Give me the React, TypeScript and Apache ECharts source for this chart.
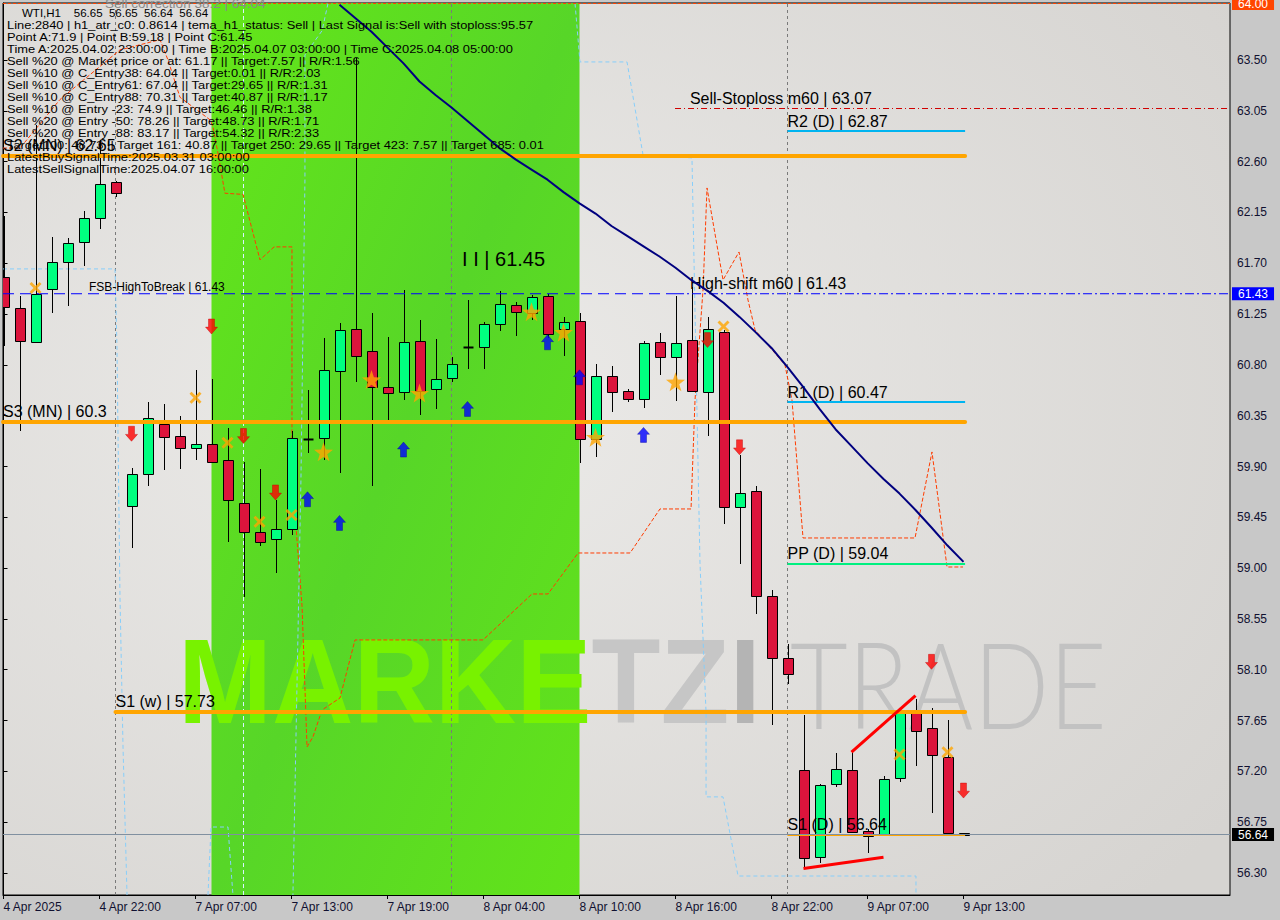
import React, { useEffect, useRef } from "react";
import * as echarts from "echarts";

// ---------- DATA ----------
const times = [
  "4 Apr 2025", "4 Apr 17:00", "4 Apr 18:00", "4 Apr 19:00", "4 Apr 20:00", "4 Apr 21:00",
  "4 Apr 22:00", "4 Apr 23:00", "7 Apr 03:00", "7 Apr 04:00", "7 Apr 05:00", "7 Apr 06:00",
  "7 Apr 07:00", "7 Apr 08:00", "7 Apr 09:00", "7 Apr 10:00", "7 Apr 11:00", "7 Apr 12:00",
  "7 Apr 13:00", "7 Apr 14:00", "7 Apr 15:00", "7 Apr 16:00", "7 Apr 17:00", "7 Apr 18:00",
  "7 Apr 19:00", "7 Apr 20:00", "7 Apr 21:00", "7 Apr 22:00", "7 Apr 23:00", "8 Apr 03:00",
  "8 Apr 04:00", "8 Apr 05:00", "8 Apr 06:00", "8 Apr 07:00", "8 Apr 08:00", "8 Apr 09:00",
  "8 Apr 10:00", "8 Apr 11:00", "8 Apr 12:00", "8 Apr 13:00", "8 Apr 14:00", "8 Apr 15:00",
  "8 Apr 16:00", "8 Apr 17:00", "8 Apr 18:00", "8 Apr 19:00", "8 Apr 20:00", "8 Apr 21:00",
  "8 Apr 22:00", "8 Apr 23:00", "9 Apr 03:00", "9 Apr 04:00", "9 Apr 05:00", "9 Apr 06:00",
  "9 Apr 07:00", "9 Apr 08:00", "9 Apr 09:00", "9 Apr 10:00", "9 Apr 11:00", "9 Apr 12:00",
  "9 Apr 13:00",
];
const xLabelIdx = [0, 6, 12, 18, 24, 30, 36, 42, 48, 54, 60];

const opens = [
  61.58, 61.30, 61.00, 61.47, 61.71, 61.89, 62.10, 62.42, 59.55, 59.83,
  60.28, 60.17, 60.06, 60.10, 59.96, 59.58, 59.32, 59.26, 59.35, 60.14,
  60.15, 60.745, 61.12, 60.92, 60.605, 60.56, 61.01, 60.59, 60.685, 60.96,
  60.96, 61.16, 61.33, 61.26, 61.41, 61.12, 61.19, 60.145, 60.70, 60.57,
  60.50, 61.00, 60.87, 61.02, 60.56, 61.09, 59.54, 59.68, 58.75, 58.20,
  57.21, 56.44, 57.09, 57.21, 56.67, 56.645, 57.14, 57.72, 57.58, 57.33,
  56.65,
];
const highs = [
  62.12, 61.41, 62.925, 61.93, 61.92, 62.16, 62.79, 62.43, 59.89, 60.47,
  60.45, 60.35, 60.755, 60.675, 60.24, 59.94, 59.88, 59.60, 60.215, 60.58,
  61.04, 61.17, 63.52, 61.26, 61.05, 61.46, 61.20, 61.03, 60.87, 61.375,
  61.18, 61.455, 61.355, 61.42, 61.43, 61.225, 61.26, 60.81, 60.79, 60.59,
  61.01, 61.08, 61.41, 61.49, 61.225, 61.11, 60.00, 59.73, 58.81, 58.33,
  57.70, 57.09, 57.36, 57.37, 56.69, 57.16, 57.735, 57.84, 57.76, 57.655,
  56.65,
];
const lows = [
  60.97, 60.215, 60.99, 61.26, 61.32, 61.68, 62.00, 62.29, 59.18, 59.73,
  59.87, 59.88, 59.96, 59.93, 59.23, 58.74, 59.20, 58.96, 59.29, 60.02,
  59.96, 59.84, 60.65, 59.73, 60.31, 60.49, 60.36, 60.41, 60.65, 60.765,
  60.765, 61.10, 61.06, 61.20, 61.04, 60.88, 59.93, 59.985, 60.38, 60.47,
  60.42, 60.71, 60.48, 60.56, 60.17, 59.39, 59.04, 58.59, 57.61, 57.97,
  56.34, 56.39, 57.06, 56.65, 56.48, 56.64, 57.11, 57.25, 56.83, 56.65,
  56.64,
];
const closes = [
  61.31, 61.01, 61.43, 61.71, 61.88, 62.10, 62.40, 62.32, 59.83, 60.33,
  60.16, 60.06, 60.10, 59.94, 59.60, 59.32, 59.23, 59.35, 60.15, 60.14,
  60.755, 61.11, 60.88, 60.605, 60.55, 61.00, 60.57, 60.675, 60.81, 60.96,
  61.16, 61.34, 61.27, 61.40, 61.07, 61.18, 60.14, 60.70, 60.56, 60.50,
  60.99, 60.87, 60.995, 60.57, 61.12, 59.54, 59.665, 58.75, 58.20, 58.06,
  56.43, 57.08, 57.22, 56.66, 56.63, 57.13, 57.72, 57.56, 57.345, 56.65,
  56.64,
];

// dark blue moving line (bar index 21..60)
const temaStart = 21;
const temaValues = [
  63.99, 63.87, 63.75, 63.61, 63.47, 63.31, 63.19, 63.08, 62.96, 62.84,
  62.72, 62.62, 62.53, 62.44, 62.33, 62.23, 62.14, 62.03, 61.94, 61.85,
  61.76, 61.66, 61.55, 61.455, 61.35, 61.225, 61.09, 60.95, 60.78, 60.60,
  60.41, 60.23, 60.08, 59.93, 59.79, 59.66, 59.515, 59.36, 59.20, 59.055,
];

// red dashed stepped line  [bar index, price]
const redDashPoints = [
  [-0.03, 62.72], [1.03, 62.72], [3.53, 63.15], [7.28, 63.59], [9.78, 63.68], [10.28, 63.5],
  [11.03, 63.17], [12.91, 62.97], [13.09, 62.91], [13.41, 62.67], [13.84, 62.32], [14.97, 62.31],
  [16.03, 61.73], [16.91, 61.845], [18.03, 61.845], [18.03, 59.84], [18.66, 58.66], [18.97, 57.416],
  [19.34, 57.505], [19.91, 57.744], [21.03, 57.85], [21.97, 58.364], [29.97, 58.364], [33.03, 58.771],
  [34.03, 58.771], [35.91, 59.134], [39.16, 59.134], [41.03, 59.524], [42.97, 59.524], [43.22, 60.49],
  [43.72, 61.464], [43.97, 62.367], [44.97, 61.552], [45.97, 61.8], [46.53, 61.375], [46.97, 61.11],
  [48.84, 60.8], [49.28, 60.49], [49.97, 59.267], [56.97, 59.267], [58.03, 60.029], [58.97, 59.01],
  [59.97, 59.01],
];

// light blue dashed stepped lines
const lightBlueA = [[-0.03, 61.65], [6.97, 61.65], [7.09, 60.977], [7.28, 58.745], [7.47, 57.416], [7.72, 56.105]];
const lightBlueB = [[12.78, 56.105], [12.97, 56.707], [14.03, 56.707], [14.34, 56.105]];
const lightBlueC = [[20.28, 64.0], [19.91, 63.76], [18.84, 63.545], [18.84, 62.44], [18.59, 59.78], [18.09, 56.105]];
const lightBlueD = [
  [35.72, 64.0], [36.03, 63.483], [38.97, 63.483], [39.97, 62.66], [43.03, 62.633], [43.53, 59.047],
  [43.91, 57.718], [43.91, 56.974], [44.97, 56.974], [45.91, 56.273], [57.03, 56.273], [57.03, 56.105],
];

// signal markers
const redArrowIdx = [8, 13, 15, 17, 44, 46, 58, 60];
const redArrowPrice = [60.19, 61.14, 60.17, 59.67, 61.02, 60.07, 58.17, 57.03];
const blueArrowIdx = [19, 21, 25, 29, 34, 36, 40];
const blueArrowPrice = [59.61, 59.40, 60.05, 60.41, 61.0, 60.69, 60.18];
const starIdx = [20, 23, 26, 33, 35, 37, 42];
const starPrice = [60.03, 60.67, 60.55, 61.27, 61.09, 60.16, 60.65];
const crossIdx = [2, 12, 14, 16, 18, 45, 56, 59];
const crossPrice = [61.48, 60.51, 60.11, 59.41, 59.47, 61.14, 57.35, 57.37];

// red trend lines
const trendUpper = [[53, 57.37], [57, 57.87]];
const trendLower = [[50, 56.34], [55, 56.44]];

// green (signal) zone, bar indices
const greenZone = [13, 36];

// levels
const levelLabels = ["S2 (MN) | 62.65", "S3 (MN) | 60.3", "S1 (w) | 57.73", "R2 (D) | 62.87", "R1 (D) | 60.47", "PP (D) | 59.04", "S1 (D) | 56.64"];
const levelValues = [62.65, 60.3, 57.73, 62.87, 60.47, 59.04, 56.64];
const levelStart = [-0.03, -0.03, 7, 49, 49, 49, 49];
const levelEnd = 60.1;

const stoplossValue = 63.07;
const stoplossStart = 42;
const fsbValue = 61.43;
const fsbSwitch = 41.97;
const currentPrice = 56.64;
const topValue = 64.0;
const pointC = 61.45;
const separators = [7, 28, 49];
const whiteMarker = 15;

const yTicks = [56.3, 56.75, 57.2, 57.65, 58.1, 58.55, 59.0, 59.45, 59.9, 60.35, 60.8, 61.25, 61.7, 62.15, 62.6, 63.05, 63.5];

const infoLines = [
  "Line:2840 | h1_atr_c0: 0.8614 | tema_h1_status: Sell | Last Signal is:Sell with stoploss:95.57",
  "Point A:71.9 | Point B:59.18 | Point C:61.45",
  "Time A:2025.04.02 23:00:00 | Time B:2025.04.07 03:00:00 | Time C:2025.04.08 05:00:00",
  "Sell %20 @ Market price or at: 61.17 || Target:7.57 || R/R:1.56",
  "Sell %10 @ C_Entry38: 64.04 || Target:0.01 || R/R:2.03",
  "Sell %10 @ C_Entry61: 67.04 || Target:29.65 || R/R:1.31",
  "Sell %10 @ C_Entry88: 70.31 || Target:40.87 || R/R:1.17",
  "Sell %10 @ Entry -23: 74.9 || Target:46.46 || R/R:1.38",
  "Sell %20 @ Entry -50: 78.26 || Target:48.73 || R/R:1.71",
  "Sell %20 @ Entry -88: 83.17 || Target:54.32 || R/R:2.33",
  "Target100: 48.73 || Target 161: 40.87 || Target 250: 29.65 || Target 423: 7.57 || Target 685: 0.01",
  "LatestBuySignalTime:2025.03.31 03:00:00",
  "LatestSellSignalTime:2025.04.07 16:00:00",
];
const headerLine = "WTI,H1    56.65  56.65  56.64  56.64";

// ---------- CHART ----------
const PMIN = 56.105;
const PMAX = 64.005;
const XMIN = -0.03125;
const XMAX = 76.656;
const FONT = "'Liberation Sans', Arial, sans-serif";
const CLEAR = "rgba(0,0,0,0)";

const DOWN = "path://M2.5,0 L7.5,0 L7.5,6.5 L10,6.5 L5,12 L0,6.5 L2.5,6.5 Z";
const UP = "path://M5,0 L10,5.5 L7.5,5.5 L7.5,12 L2.5,12 L2.5,5.5 L0,5.5 Z";
const STAR = "path://M10,0 L12.4,7 L19.5,7.1 L13.8,11.4 L15.9,18.3 L10,14.2 L4.1,18.3 L6.2,11.4 L0.5,7.1 L7.6,7 Z";
const CROSS = "path://M0,2 L2,0 L6,4 L10,0 L12,2 L8,6 L12,10 L10,12 L6,8 L2,12 L0,10 L4,6 Z";

function zip(a: number[], b: number[]) {
  return a.map((v, i) => [v, b[i]]);
}

function levelLine(x0: number, x1: number, y: number, lineStyle: any, label?: any) {
  return [
    { coord: [x0, y], lineStyle, label: label || { show: false } },
    { coord: [x1, y] },
  ];
}

function buildOption() {
  const levelLabelStyle = (text: string) => ({
    show: true,
    position: "insideStartTop",
    formatter: text,
    color: "#000",
    fontSize: 16,
    fontFamily: FONT,
    distance: [0, 2],
  });
  const levelStyles = [
    { color: "#ffa500", width: 4, type: "solid", cap: "round" },
    { color: "#ffa500", width: 4, type: "solid", cap: "round" },
    { color: "#ffa500", width: 4, type: "solid", cap: "round" },
    { color: "#00b4f0", width: 2, type: "solid" },
    { color: "#00b4f0", width: 2, type: "solid" },
    { color: "#00f080", width: 2, type: "solid" },
    { color: "#ffa500", width: 2, type: "solid" },
  ];
  const hidden = { color: CLEAR, width: 1, type: "solid" };

  const markLineData: any[] = [];
  levelValues.forEach((v, i) => {
    markLineData.push(levelLine(levelStart[i], levelEnd, v, levelStyles[i], levelLabelStyle(levelLabels[i])));
  });
  // stoploss
  markLineData.push(levelLine(stoplossStart - 0.03, XMAX, stoplossValue, { color: "#d00000", width: 1, type: [6, 3, 1, 3] }));
  markLineData.push(levelLine(42.9, XMAX, stoplossValue, hidden, levelLabelStyle("Sell-Stoploss m60 | 63.07")));
  // FSB / high-shift labels
  markLineData.push(levelLine(fsbSwitch, XMAX, fsbValue, hidden, {
    show: true, position: "end", formatter: "61.43", color: "#fff", backgroundColor: "#0000ff",
    padding: [1, 6, 0, 6], fontSize: 12, fontFamily: FONT, distance: 2,
  }));
  markLineData.push(levelLine(5.34, 30, fsbValue, hidden, { ...levelLabelStyle("FSB-HighToBreak | 61.43"), fontSize: 12, distance: [0, 1] }));
  markLineData.push(levelLine(42.9, XMAX, fsbValue, hidden, levelLabelStyle("High-shift m60 | 61.43")));
  // current price
  markLineData.push(levelLine(XMIN, XMAX, currentPrice, { color: "#8090a0", width: 1, type: "solid" }, {
    show: true, position: "end", formatter: "56.64", color: "#fff", backgroundColor: "#000",
    padding: [1, 6, 0, 6], fontSize: 12, fontFamily: FONT, distance: 2,
  }));
  // top correction line
  markLineData.push(levelLine(XMIN, XMAX, topValue, { color: "#ff4500", width: 1, type: [3, 2] }, {
    show: true, position: "end", formatter: "64.00", color: "#fff", backgroundColor: "#ff4500",
    padding: [1, 6, 0, 6], fontSize: 12, fontFamily: FONT, distance: 2,
  }));
  markLineData.push(levelLine(6.35, 30, topValue, hidden, {
    show: true, position: "insideStart", formatter: "Sell correction 38.2 | 64.04", color: "#8a8a8a",
    fontSize: 13.5, fontFamily: FONT, distance: 0,
  }));

  const separatorData: any[] = separators.map((s) => ({
    xAxis: s,
    lineStyle: { color: "#7a7a7a", width: 1, type: [3, 3] },
    label: { show: false },
  }));
  separatorData.push({ xAxis: whiteMarker - 0.03, lineStyle: { color: "#d8f4ff", width: 1, type: [4, 3] }, label: { show: false } });

  const lightBlueSeries = [lightBlueA, lightBlueB, lightBlueC, lightBlueD].map((d) => ({
    type: "line",
    data: d,
    symbol: "none",
    lineStyle: { color: "#87cefa", width: 1, type: [4, 3] },
    z: 3,
    silent: true,
  }));

  const infoScale = 1.12;

  return {
    animation: false,
    backgroundColor: "#c8c8c8",
    grid: {
      left: 3,
      right: 50,
      top: 3,
      bottom: 25,
      show: true,
      borderColor: "#000",
      borderWidth: 1,
      backgroundColor: {
        type: "radial",
        x: 0.35,
        y: 0.45,
        r: 0.8,
        colorStops: [
          { offset: 0, color: "#ecebe9" },
          { offset: 1, color: "#d6d4d1" },
        ],
      },
    },
    xAxis: {
      type: "value",
      min: XMIN,
      max: XMAX,
      splitLine: { show: false },
      axisLine: { show: true, lineStyle: { color: "#000" } },
      axisTick: { show: true, customValues: xLabelIdx, length: 4, lineStyle: { color: "#000" } },
      axisLabel: {
        show: true,
        customValues: xLabelIdx,
        formatter: (v: number) => times[Math.round(v)] || "",
        align: "left",
        color: "#101030",
        fontSize: 12,
        fontFamily: FONT,
        margin: 6,
      },
    },
    yAxis: {
      type: "value",
      position: "right",
      min: PMIN,
      max: PMAX,
      scale: true,
      splitLine: { show: false },
      axisLine: { show: true, lineStyle: { color: "#000" } },
      axisTick: { show: true, customValues: yTicks, length: 4, lineStyle: { color: "#000" } },
      axisLabel: {
        show: true,
        customValues: yTicks,
        formatter: (v: number) => v.toFixed(2),
        color: "#101030",
        fontSize: 12,
        fontFamily: FONT,
        margin: 7,
      },
    },
    graphic: [
      {
        type: "text",
        x: 178,
        y: 682,
        scaleX: 0.94,
        z: 1.5,
        silent: true,
        style: {
          text: "{l|MARKE}{g|TZ}{d|I}",
          font: `bold 120px ${FONT}`,
          verticalAlign: "middle",
          rich: {
            l: { fill: "#78f200", font: `bold 120px ${FONT}` },
            g: { fill: "#c6c6c6", font: `bold 120px ${FONT}` },
            d: { fill: "#b4b4b4", font: `bold 120px ${FONT}` },
          },
        },
      },
      {
        type: "text",
        x: 790,
        y: 682,
        scaleX: 0.83,
        z: 1.5,
        silent: true,
        style: {
          text: "TRADE",
          font: `300 120px Lato, ${FONT}`,
          fill: "#c2c2c2",
          verticalAlign: "middle",
        },
      },
      {
        type: "text",
        x: 22,
        y: 13,
        z: 20,
        silent: true,
        style: { text: headerLine, font: `11.5px ${FONT}`, fill: "#000", verticalAlign: "middle" },
      },
      ...infoLines.map((t, i) => ({
        type: "text",
        x: 7,
        y: 25 + i * 12.0,
        scaleX: infoScale,
        z: 20,
        silent: true,
        style: { text: t, font: `11.5px ${FONT}`, fill: "#000", verticalAlign: "middle" },
      })),
    ],
    series: [
      {
        type: "custom",
        name: "zone",
        z: 1,
        silent: true,
        clip: true,
        data: [[greenZone[0], greenZone[1]]],
        encode: { x: [0, 1] },
        renderItem: (params: any, api: any) => {
          const a = api.coord([api.value(0), PMAX]);
          const b = api.coord([api.value(1), PMIN]);
          return {
            type: "rect",
            shape: { x: a[0], y: a[1], width: b[0] - a[0], height: b[1] - a[1] },
            style: {
              fill: {
                type: "linear",
                x: 0, y: 0, x2: 1, y2: 1,
                colorStops: [
                  { offset: 0, color: "#64e619" },
                  { offset: 0.5, color: "#57d628" },
                  { offset: 1, color: "#62e31a" },
                ],
              },
            },
          };
        },
      },
      {
        type: "custom",
        name: "candles",
        z: 4,
        clip: true,
        data: opens.map((o, i) => [i, o, highs[i], lows[i], closes[i]]),
        encode: { x: 0, y: [1, 2, 3, 4] },
        renderItem: (params: any, api: any) => {
          const i = api.value(0);
          const o = api.value(1);
          const h = api.value(2);
          const l = api.value(3);
          const c = api.value(4);
          const pO = api.coord([i, o]);
          const pC = api.coord([i, c]);
          const pH = api.coord([i, h]);
          const pL = api.coord([i, l]);
          const x = Math.round(pO[0]) + 0.5;
          const top = Math.round(Math.min(pO[1], pC[1])) + 0.5;
          const bot = Math.round(Math.max(pO[1], pC[1])) + 0.5;
          const children: any[] = [
            {
              type: "line",
              shape: { x1: x, y1: Math.round(pH[1]), x2: x, y2: Math.round(pL[1]) },
              style: { stroke: "#000", lineWidth: 1 },
            },
          ];
          if (bot - top < 1.5) {
            children.push({
              type: "line",
              shape: { x1: x - 5, y1: top, x2: x + 5, y2: top },
              style: { stroke: "#000", lineWidth: 2 },
            });
          } else {
            children.push({
              type: "rect",
              shape: { x: x - 5, y: top, width: 10, height: bot - top },
              style: { fill: c > o ? "#00ff80" : "#dc143c", stroke: "#000", lineWidth: 1 },
            });
          }
          return { type: "group", children };
        },
      },
      {
        type: "line",
        name: "redDash",
        data: redDashPoints,
        symbol: "none",
        lineStyle: { color: "#ff3c00", width: 1, type: [4, 2] },
        z: 3,
        silent: true,
        markLine: {
          silent: true,
          z: 3,
          symbol: ["none", "none"],
          animation: false,
          label: { show: false },
          data: separatorData,
        },
      },
      ...lightBlueSeries,
      {
        type: "line",
        name: "fsbLeft",
        data: [[XMIN, fsbValue], [fsbSwitch, fsbValue]],
        symbol: "none",
        lineStyle: { color: "#0000ff", width: 1, type: [11, 6] },
        z: 5,
        silent: true,
      },
      {
        type: "line",
        name: "fsbRight",
        data: [[fsbSwitch, fsbValue], [XMAX, fsbValue]],
        symbol: "none",
        lineStyle: { color: "#0000ff", width: 1, type: [9, 3, 2, 3] },
        z: 5,
        silent: true,
      },
      {
        type: "line",
        name: "tema",
        data: temaValues.map((v, i) => [temaStart + i, v]),
        symbol: "none",
        smooth: false,
        lineStyle: { color: "#00007f", width: 2 },
        z: 5,
        silent: true,
        markLine: {
          silent: true,
          symbol: ["none", "none"],
          animation: false,
          label: { show: false },
          data: markLineData,
        },
        markPoint: {
          silent: true,
          symbol: "circle",
          symbolSize: 0,
          data: [
            {
              coord: [28.66, pointC + 0.285],
              label: {
                show: true,
                position: "right",
                distance: 0,
                formatter: "I I | 61.45",
                color: "#000",
                fontSize: 20,
                fontFamily: FONT,
              },
            },
          ],
        },
      },
      {
        type: "line",
        name: "trendUpper",
        data: trendUpper,
        symbol: "none",
        lineStyle: { color: "#ff0000", width: 3 },
        z: 6,
        silent: true,
      },
      {
        type: "line",
        name: "trendLower",
        data: trendLower,
        symbol: "none",
        lineStyle: { color: "#ff0000", width: 3 },
        z: 6,
        silent: true,
      },
      {
        type: "scatter",
        name: "sellArrows",
        data: zip(redArrowIdx, redArrowPrice),
        symbol: DOWN,
        symbolSize: [12, 15],
        itemStyle: { color: "#ff0000", borderColor: "#c00000", borderWidth: 0.5 },
        z: 7,
        silent: true,
      },
      {
        type: "scatter",
        name: "buyArrows",
        data: zip(blueArrowIdx, blueArrowPrice),
        symbol: UP,
        symbolSize: [12, 15],
        itemStyle: { color: "#0000ff", borderColor: "#0000a0", borderWidth: 0.5 },
        z: 7,
        silent: true,
      },
      {
        type: "scatter",
        name: "stars",
        data: zip(starIdx, starPrice),
        symbol: STAR,
        symbolSize: 19,
        itemStyle: { color: "#ffa500" },
        z: 7,
        silent: true,
      },
      {
        type: "scatter",
        name: "crosses",
        data: zip(crossIdx, crossPrice),
        symbol: CROSS,
        symbolSize: 12,
        itemStyle: { color: "#ffa500" },
        z: 7,
        silent: true,
      },
    ],
  };
}

export default function App() {
  const ref = useRef<HTMLDivElement>(null);
  useEffect(() => {
    if (!ref.current) return;
    const chart = echarts.init(ref.current, null, { renderer: "svg" });
    chart.setOption(buildOption() as any);
    return () => chart.dispose();
  }, []);
  return (
    <div
      ref={ref}
      style={{ position: "absolute", left: 0, top: 0, width: 1280, height: 920 }}
    />
  );
}
